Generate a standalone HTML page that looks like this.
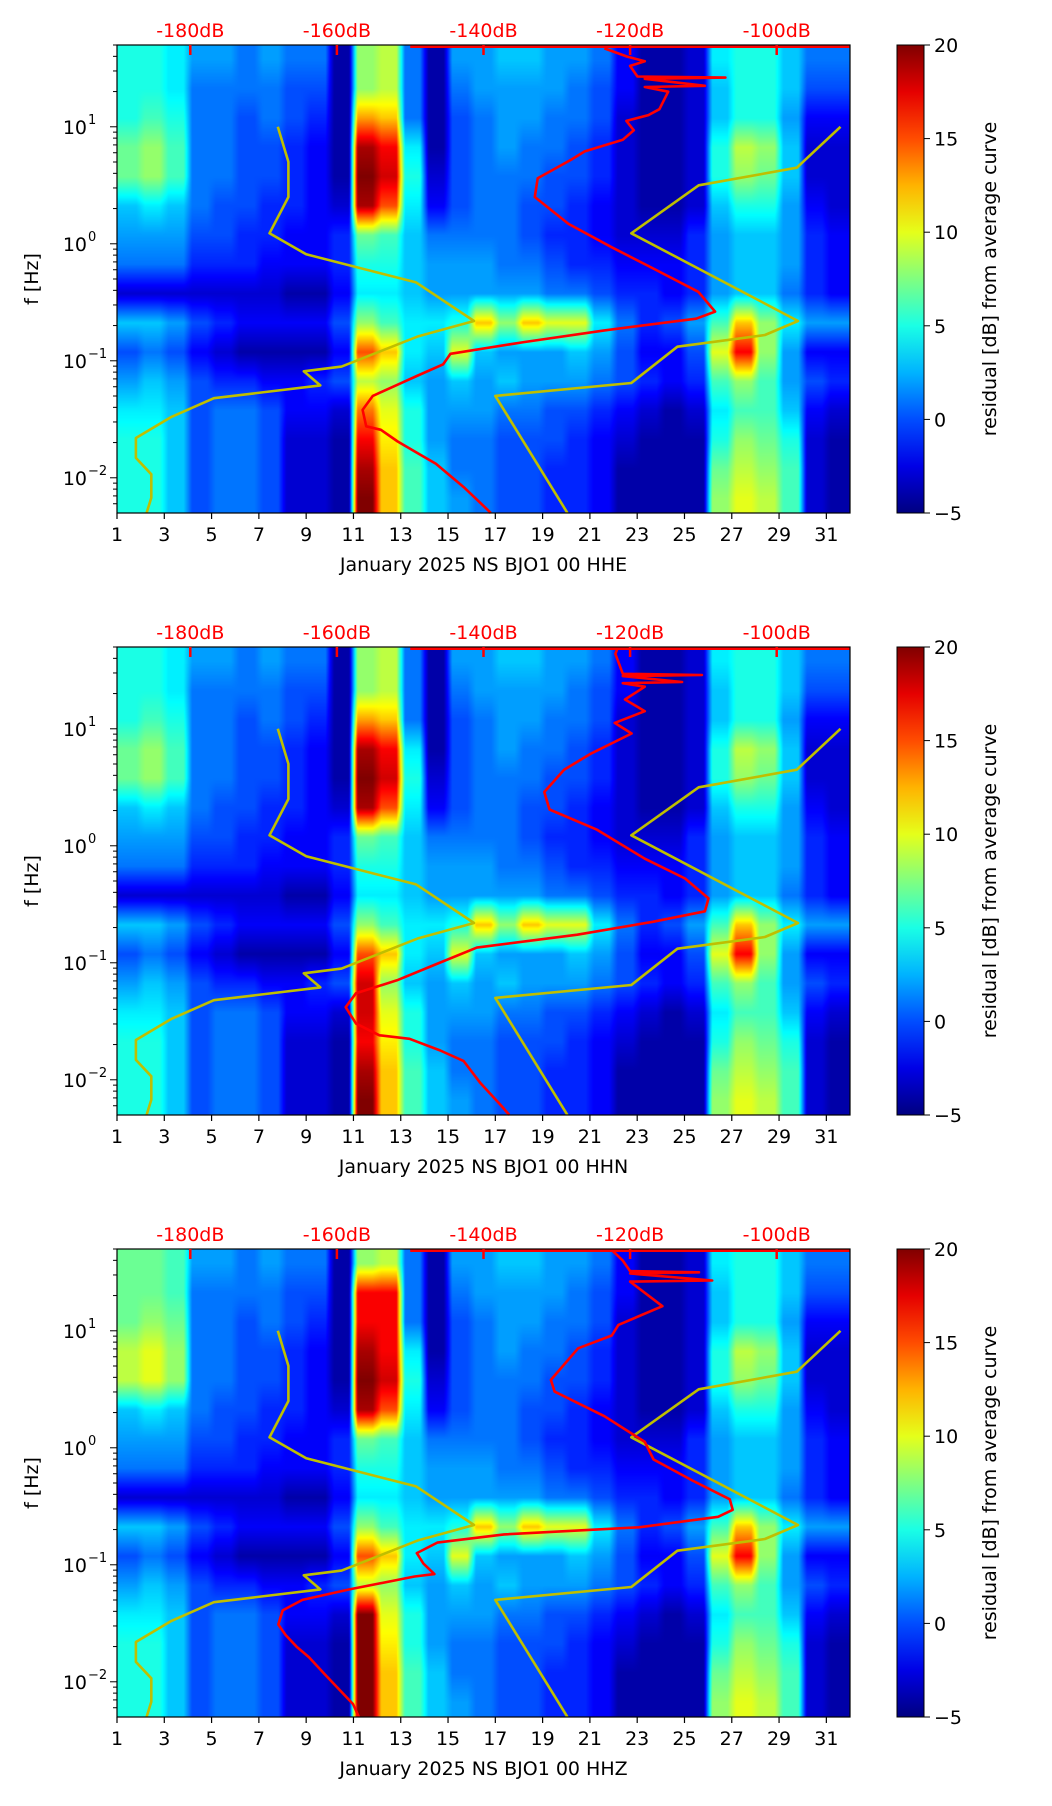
<!DOCTYPE html>
<html><head><meta charset="utf-8">
<style>
html,body{margin:0;padding:0;background:#fff;}
#wrap{position:relative;width:1052px;height:1806px;overflow:hidden;}
canvas{position:absolute;}
svg{position:absolute;left:0;top:0;}
text{font-family:"DejaVu Sans","Liberation Sans",sans-serif;}
</style></head>
<body>
<div id="wrap">
<canvas id="c0"></canvas>
<canvas id="c1"></canvas>
<canvas id="c2"></canvas>
<svg id="s" width="1052" height="1806"></svg>
</div>
<script>
// ---- data ----
const days = [1,3,5,7,9,11,13,15,17,19,21,23,25,27,29,31];
const yTicksExp = [1,0,-1,-2];
const dbTicks = [-180,-160,-140,-120,-100];
const cbTicks = [20,15,10,5,0,-5];
const titles = ["January 2025 NS BJO1 00 HHE","January 2025 NS BJO1 00 HHN","January 2025 NS BJO1 00 HHZ"];
// residual grid rows (log10 f from 1.7 down to -2.3, 0.25 decade each), columns = day 1..31
const grid = [
[5,5,4,2,2,1,2,1,1,-4,8,9,1,-4,2,2,3,3,2,2,1,-2,-4,-4,-3,4,5,5,3,1,1],
[5,5,4,1,1,1,1,0,0,-4,8,9,1,-4,1,2,2,2,2,1,0,-2,-4,-4,-3,3,5,5,3,0,0],
[5,6,5,1,1,0,1,0,-1,-4,13,12,1,-4,0,1,2,2,1,1,0,-3,-4,-4,-3,3,5,5,2,-2,-2],
[7,8,6,1,1,0,0,-1,-2,-4,19,17,4,-4,0,1,2,1,1,0,-1,-3,-4,-4,-3,5,9,8,3,-3,-3],
[7,8,6,1,1,0,0,-1,-2,-4,20,18,5,-3,0,1,1,1,0,0,-1,-3,-4,-4,-3,5,8,7,3,-3,-3],
[3,4,3,1,0,0,-1,-1,-2,-3,19,15,4,-2,0,1,1,0,0,-1,-2,-3,-4,-4,-3,3,5,5,2,-2,-3],
[2,2,2,0,0,-1,-1,-2,-2,-1,7,6,3,1,1,1,1,0,-1,-1,-2,-3,-3,-3,-1,2,3,3,2,-1,-2],
[1,1,1,-1,-1,-1,-2,-2,-2,-1,5,5,3,2,2,2,1,1,0,-1,-1,-2,-2,-2,-1,2,3,3,2,-1,-2],
[-3,-3,-3,-3,-3,-3,-3,-4,-4,-2,4,4,3,2,2,2,2,2,1,1,0,-1,-1,-2,-1,2,3,3,1,-1,-2],
[3,3,2,0,-1,-2,-2,-2,-2,0,8,6,4,4,5,12,8,12,10,10,4,1,-1,0,2,6,12,8,4,2,2],
[0,1,0,-2,-3,-4,-4,-4,-4,-2,15,12,4,3,10,3,2,2,2,3,2,0,-2,-2,0,10,17,8,2,-2,-2],
[2,3,2,0,-1,-1,-2,-2,-1,0,9,8,3,2,3,2,3,2,2,2,1,0,-1,-2,-1,6,8,6,2,0,-1],
[4,4,3,0,1,1,0,-2,-2,-3,14,10,5,2,2,2,1,1,0,0,-1,-2,-3,-4,-3,4,6,6,3,-2,-3],
[5,5,3,0,1,1,0,-3,-3,-4,17,11,5,2,1,1,0,0,0,-1,-2,-3,-4,-4,-4,5,8,7,5,-3,-4],
[5,5,3,0,1,1,0,-3,-3,-4,19,12,6,3,1,1,0,0,-1,-1,-2,-4,-4,-4,-4,7,9,8,6,-3,-4],
[5,5,3,0,1,1,0,-3,-3,-4,20,12,6,3,2,1,0,0,-1,-1,-2,-4,-4,-4,-4,8,10,9,6,-3,-4]
];
// yellow reference curves (day, log10 f)
const yelDayA = [7.8,8.25,8.25,7.45,9.0,13.65,16.1,13.75,10.5,8.9,9.6,5.1,3.3,1.8,1.8,2.45,2.45,2.25];
const yelLfA  = [1.0,0.70,0.40,0.09,-0.09,-0.33,-0.66,-0.79,-1.05,-1.09,-1.21,-1.32,-1.48,-1.66,-1.83,-1.97,-2.17,-2.30];
const yelDayB = [31.6,29.75,25.6,22.75,29.8,28.4,24.7,22.75,17.0,20.05];
const yelLfB  = [1.0,0.65,0.5,0.09,-0.66,-0.78,-0.88,-1.19,-1.30,-2.30];
// red average curves (dB, log10 f)
const redDb1 = [-123.5,-120.4,-118,-120,-119,-107,-118,-109.8,-118,-114.8,-116,-117.5,-120.5,-119.5,-121,-126.2,-128,-132.6,-133,-128.4,-122.5,-117.5,-110.7,-108.4,-111,-123.5,-134.5,-144.5,-145.5,-149.1,-155.1,-156.5,-156,-154,-151.7,-148.7,-146.5,-142.7,-139.5,-139];
const redLf1 = [1.67,1.60,1.56,1.52,1.43,1.42,1.41,1.35,1.34,1.30,1.15,1.10,1.05,0.97,0.89,0.79,0.72,0.56,0.40,0.17,-0.03,-0.19,-0.41,-0.58,-0.64,-0.74,-0.84,-0.94,-1.03,-1.13,-1.30,-1.42,-1.56,-1.59,-1.69,-1.80,-1.88,-2.08,-2.27,-2.30];
const redDb2 = [-121.7,-122,-121,-110.2,-121,-112.9,-121,-118,-120.7,-118,-122.1,-119.8,-125.3,-129,-131.7,-131,-124.6,-118,-112.5,-109.3,-109.8,-116.9,-127.2,-140.9,-146.4,-151.8,-157.4,-158.8,-157.4,-154.2,-150.1,-145.9,-142.7,-140.4,-137.6,-136.5];
const redLf2 = [1.69,1.64,1.47,1.46,1.45,1.40,1.39,1.36,1.25,1.15,1.05,0.96,0.79,0.65,0.46,0.31,0.14,-0.11,-0.28,-0.45,-0.56,-0.65,-0.76,-0.87,-1.01,-1.15,-1.26,-1.38,-1.52,-1.62,-1.65,-1.75,-1.84,-2.03,-2.22,-2.30];
const redDb3 = [-122.5,-121,-120,-110.6,-120,-108.8,-120,-115.6,-121.6,-122.5,-127.1,-130.8,-130.3,-123.5,-118,-116.8,-111.5,-106.4,-106,-108,-118.8,-137.2,-146.3,-149.1,-148.2,-146.7,-149.4,-158.3,-164.7,-167.4,-168,-167,-165.5,-163.8,-161.6,-157.8,-157];
const redLf3 = [1.69,1.60,1.51,1.50,1.49,1.43,1.42,1.21,1.05,0.96,0.85,0.58,0.48,0.27,0.05,-0.10,-0.28,-0.44,-0.53,-0.59,-0.68,-0.74,-0.81,-0.90,-0.99,-1.08,-1.10,-1.21,-1.30,-1.39,-1.51,-1.60,-1.70,-1.79,-1.94,-2.19,-2.30];
const redDb = [redDb1,redDb2,redDb3];
const redLf = [redLf1,redLf2,redLf3];

// ---- layout ----
const L=117, R=850, W=R-L, H=468;
const tops=[45,647,1249];
const CBL=897, CBW=27;
const LFTOP=1.699, LFBOT=-2.301;
const VMIN=-5, VMAX=20;
const xDay=d=>L+(d-1)/31*W;
const xDb=db=>L+(db+190)/100*W;
const yLf=(lf,T)=>T+(LFTOP-lf)/(LFTOP-LFBOT)*H;
const yCb=(v,T)=>T+(VMAX-v)/(VMAX-VMIN)*H;
function jet(t){t=Math.max(0,Math.min(1,t));const c=x=>Math.round(255*Math.max(0,Math.min(1,x)));
return [c(1.5-Math.abs(4*t-3)),c(1.5-Math.abs(4*t-2)),c(1.5-Math.abs(4*t-1))];}
const NS="http://www.w3.org/2000/svg";
const svg=document.getElementById('s');
function el(tag,attrs,parent){const e=document.createElementNS(NS,tag);for(const k in attrs)e.setAttribute(k,attrs[k]);(parent||svg).appendChild(e);return e;}

function gridFor(p){
  return grid.map((row,r)=>row.map((v,c)=>{
    if(p===2){ if((r===1||r===2)&&(c===10||c===11)) return 17; if(r>=12&&c===10) return 20; if(r<=4&&c<=2) return v+2; }
    if(p===1){ if(r>=11&&r<=12&&c===10) return 18; }
    return v;}));
}
function sampleRow(row,d){
  // piecewise constant per day with short blended transitions
  const nC=row.length; const u=d-1; let c=Math.floor(u); c=Math.max(0,Math.min(nC-1,c));
  const f=u-c; const bw=0.18;
  let v=row[c];
  if(f<bw && c>0){const w=0.5-f/(2*bw);v=v*(1-w)+row[c-1]*w;}
  else if(f>1-bw && c<nC-1){const w=0.5-(1-f)/(2*bw);v=v*(1-w)+row[c+1]*w;}
  return v;
}

for(let p=0;p<3;p++){
  const T=tops[p];
  const g=gridFor(p);
  const nR=g.length;
  const cv=document.getElementById('c'+p);
  cv.width=W;cv.height=H;cv.style.left=L+'px';cv.style.top=T+'px';
  const ctx=cv.getContext('2d');
  const img=ctx.createImageData(W,H);
  const rowVals=new Array(nR);
  for(let x=0;x<W;x++){
    const d=1+(x+0.5)/W*31;
    for(let r=0;r<nR;r++) rowVals[r]=sampleRow(g[r],d);
    for(let y=0;y<H;y++){
      let rf=(y+0.5)/H*nR-0.5; rf=Math.max(0,Math.min(nR-1,rf));
      const r0=Math.floor(rf), r1=Math.min(nR-1,r0+1), t=rf-r0;
      const v=rowVals[r0]*(1-t)+rowVals[r1]*t;
      const col=jet((v-VMIN)/(VMAX-VMIN));
      const i=(y*W+x)*4; img.data[i]=col[0];img.data[i+1]=col[1];img.data[i+2]=col[2];img.data[i+3]=255;
    }
  }
  ctx.putImageData(img,0,0);

  const grp=el('g',{});
  
  
  [[yelDayA,yelLfA],[yelDayB,yelLfB]].forEach(([ds,ls],k)=>{
    const pts=ds.map((d,i)=>xDay(d).toFixed(1)+','+yLf(ls[i],T).toFixed(1)).join(' ');
    const pl=el('polyline',{points:pts,fill:'none',stroke:'#bfbf00','stroke-width':2.6,'stroke-linejoin':'round'},grp);
    
    
  });
  const top=el('line',{x1:xDb(-150),y1:T+1.5,x2:R,y2:T+1.5,stroke:'red','stroke-width':3},grp);
  
  
  const rp=redDb[p].map((d,i)=>xDb(d).toFixed(1)+','+yLf(redLf[p][i],T).toFixed(1)).join(' ');
  const rl=el('polyline',{points:rp,fill:'none',stroke:'red','stroke-width':2.6,'stroke-linejoin':'round'},grp);
  
  
  const fr=el('rect',{x:L,y:T,width:W,height:H,fill:'none',stroke:'#000','stroke-width':1.2},grp);
  
  
  days.forEach(d=>{const x=xDay(d);
    el('line',{x1:x,y1:T+H,x2:x,y2:T+H+6,stroke:'#000','stroke-width':1.2},grp);
    const t=el('text',{x:x,y:T+H+28,'font-size':19,'text-anchor':'middle',fill:'#000'},grp);t.textContent=d;
    
    
  });
  const xl=el('text',{x:(L+R)/2,y:T+H+58,'font-size':19,'text-anchor':'middle',fill:'#000'},grp);xl.textContent=titles[p];
  
  
  for(let e=-3;e<=1;e++)for(let k=1;k<10;k++){const lf=e+Math.log10(k);if(lf<LFBOT||lf>LFTOP)continue;const y=yLf(lf,T);
    el('line',{x1:L-(k===1?7:4),y1:y,x2:L,y2:y,stroke:'#000','stroke-width':1},grp);}
  yTicksExp.forEach(e=>{const y=yLf(e,T);
    const t=el('text',{x:L-30,y:y+7,'font-size':19,'text-anchor':'end',fill:'#000'},grp);t.textContent='10';
    
    
    const s=el('text',{x:L-29,y:y-3,'font-size':13,'text-anchor':'start',fill:'#000'},grp);s.textContent=(e<0?'\u2212':'')+Math.abs(e);
  });
  const yl=el('text',{x:0,y:0,'font-size':19,'text-anchor':'middle',fill:'#000',transform:`translate(38,${T+H/2}) rotate(-90)`},grp);yl.textContent='f [Hz]';
  
  
  dbTicks.forEach(db=>{const x=xDb(db);
    el('line',{x1:x,y1:T,x2:x,y2:T+10,stroke:'red','stroke-width':2.5},grp);
    const t=el('text',{x:x,y:T-8,'font-size':19,'text-anchor':'middle',fill:'red'},grp);t.textContent=db+'dB';
    
    
  });
  const gid='jet'+p;const defs=el('defs',{},grp);const lg=el('linearGradient',{id:gid,x1:0,y1:1,x2:0,y2:0},defs);
  for(let i=0;i<=10;i++){const c=jet(i/10);el('stop',{offset:i/10,'stop-color':`rgb(${c})`},lg);}
  const cb=el('rect',{x:CBL,y:T,width:CBW,height:H,fill:`url(#${gid})`,stroke:'#000','stroke-width':1},grp);
  
  
  cbTicks.forEach(v=>{const y=yCb(v,T);
    el('line',{x1:CBL+CBW,y1:y,x2:CBL+CBW+6,y2:y,stroke:'#000','stroke-width':1},grp);
    const t=el('text',{x:CBL+CBW+10,y:y+7,'font-size':19,fill:'#000'},grp);t.textContent=v<0?'\u2212'+(-v):v;
    
    
  });
  const cl=el('text',{x:0,y:0,'font-size':19,'text-anchor':'middle',fill:'#000',transform:`translate(${CBL+CBW+72},${T+H/2}) rotate(-90)`},grp);cl.textContent='residual [dB] from average curve';
  
  
}
</script>
</body></html>
